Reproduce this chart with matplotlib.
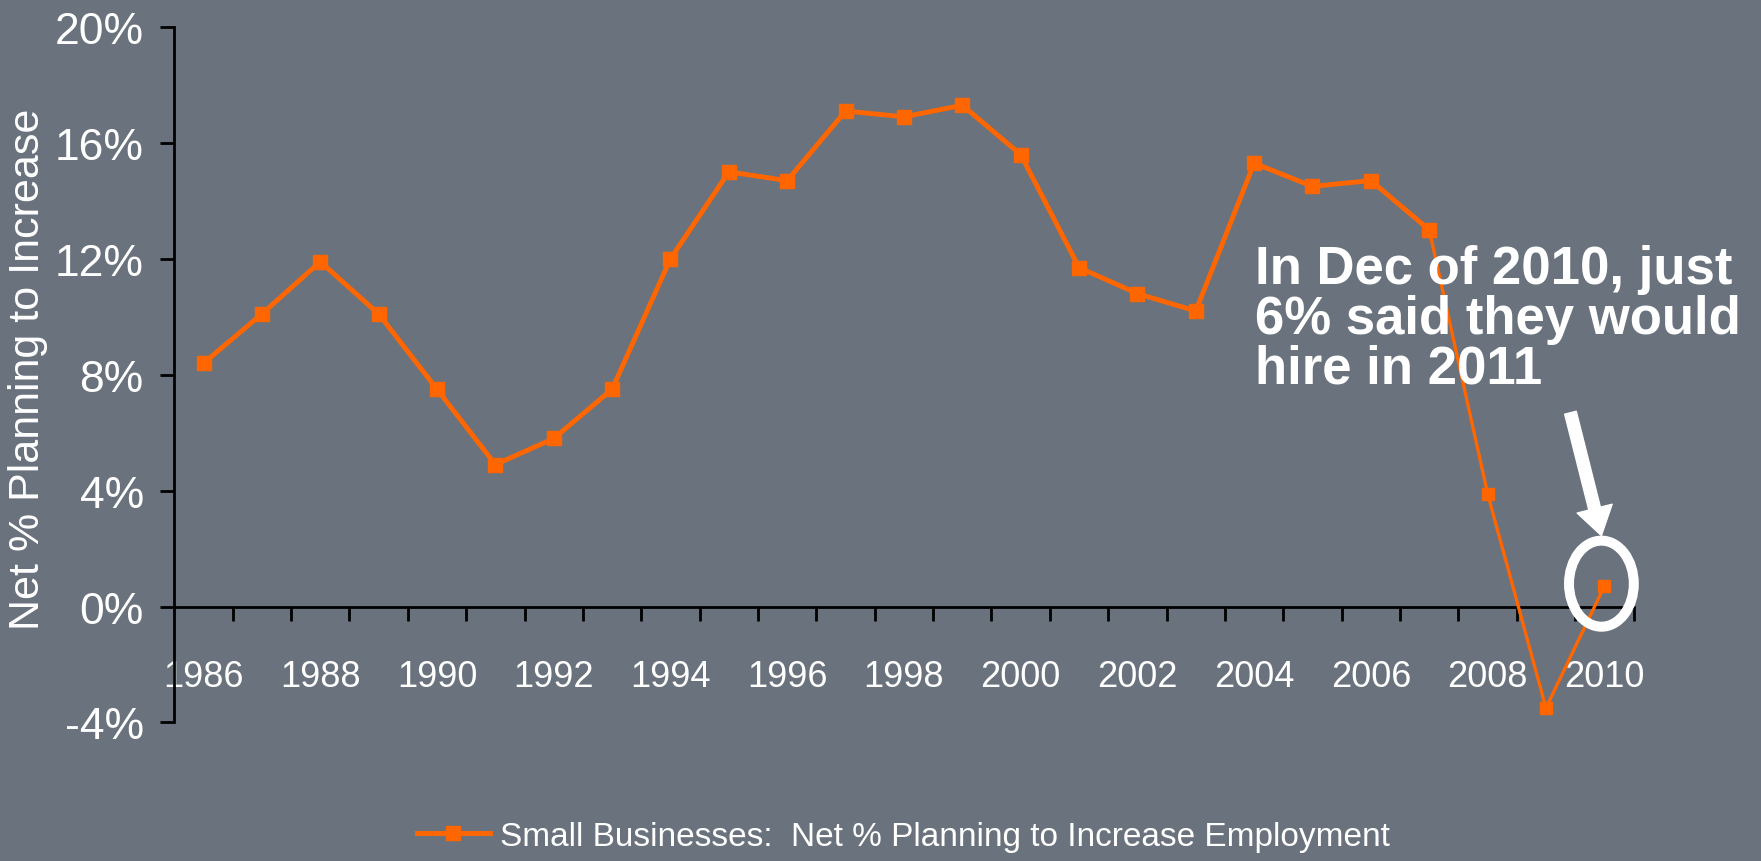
import matplotlib
matplotlib.use("Agg")
import matplotlib.pyplot as plt
from matplotlib.patches import Ellipse

# Small business hiring plans, net % planning to increase employment
years = list(range(1986, 2011))
net_pct = [8.4, 10.1, 11.9, 10.1, 7.5, 4.9, 5.8, 7.5, 12.0, 15.0, 14.7, 17.1,
           16.9, 17.3, 15.6, 11.7, 10.8, 10.2, 15.3, 14.5, 14.7, 13.0,
           3.9, -3.5, 0.7]
label_years = list(range(1986, 2011, 2))
y_ticks = [-4, 0, 4, 8, 12, 16, 20]

BG = "#6a727d"
ORANGE = "#ff6600"
FONT = ["Liberation Sans", "DejaVu Sans"]

fig = plt.figure(figsize=(17.61, 8.62), dpi=100, facecolor=BG)
ax = fig.add_axes([0.099, 0.1607, 0.8286, 0.8068])
ax.set_facecolor(BG)

# thick line up to 2007, thinner tail afterwards (as drawn in the original)
split = years.index(2007)
ax.plot(years[:split + 1], net_pct[:split + 1], color=ORANGE, lw=3.5,
        marker="s", ms=9.5, label="Small Businesses:  Net % Planning to Increase Employment")
ax.plot(years[split:], net_pct[split:], color=ORANGE, lw=2.4, marker="s", ms=9)

ax.set_xlim(1985.5, 2010.5)
ax.set_ylim(-4, 20)

# x axis sits on the zero line
for s in ["top", "right"]:
    ax.spines[s].set_visible(False)
ax.spines["bottom"].set_position(("data", 0))
for s in ["left", "bottom"]:
    ax.spines[s].set_color("black")
    ax.spines[s].set_linewidth(2)
ax.spines["bottom"].set_zorder(1)

ax.set_yticks(y_ticks)
ax.set_yticklabels([f"{v}%" for v in y_ticks], fontsize=32, family=FONT)
ax.tick_params(axis="y", direction="out", length=10, width=2, pad=12,
               colors="black", labelcolor="white")

ax.set_xticks(label_years)
ax.set_xticklabels([str(y) for y in label_years], fontsize=26, family=FONT)
ax.set_xticks([y + 0.5 for y in years], minor=True)
ax.tick_params(axis="x", which="major", length=0, pad=38, labelcolor="white")
ax.tick_params(axis="x", which="minor", direction="out", length=10, width=2, colors="black")

fig.text(0.016, 0.572, "Net % Planning to Increase", rotation=90, ha="center", va="center",
         fontsize=31, color="white", family=FONT)

fig.text(0.7125, 0.716, "In Dec of 2010, just\n6% said they would\nhire in 2011",
         ha="left", va="top", fontsize=38, fontweight="bold", color="white",
         family=FONT, linespacing=1.0)

ax.annotate("", xy=(2009.95, 2.45), xytext=(2009.42, 6.69),
            arrowprops=dict(arrowstyle="simple,head_length=1.0,head_width=1.3,tail_width=0.43",
                            color="white", shrinkA=0, shrinkB=0, mutation_scale=20))
ax.add_patch(Ellipse((2009.95, 0.79), 1.11, 2.97, fill=False, edgecolor="white",
                     lw=7.2, zorder=5, clip_on=False))

fig.legend(loc="center", bbox_to_anchor=(0.513, 0.029), frameon=False,
           prop={"family": FONT, "size": 24}, handlelength=2.2,
           handletextpad=0.3, labelcolor="white")

fig.savefig("out.png", dpi=100, facecolor=BG)
